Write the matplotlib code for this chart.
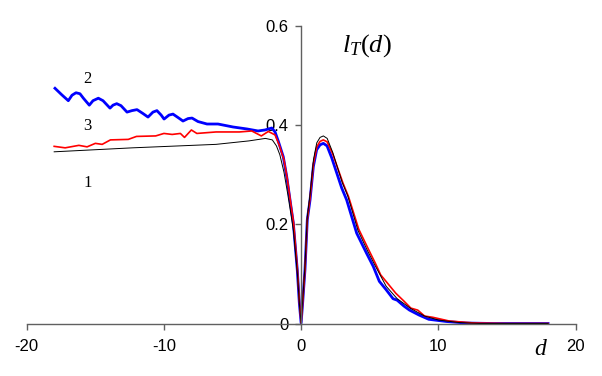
import matplotlib
matplotlib.use("Agg")
import matplotlib.pyplot as plt

plt.rcParams['font.family'] = ['Liberation Sans', 'DejaVu Sans']
plt.rcParams['axes.unicode_minus'] = False
plt.rcParams['mathtext.fontset'] = 'custom'
plt.rcParams['mathtext.rm'] = 'Liberation Serif'
plt.rcParams['mathtext.it'] = 'Liberation Serif:italic'

# curve 2 (blue)
x2 = [-17.94, -17.45, -16.97, -16.70, -16.41, -16.12, -15.87, -15.44, -15.17, -14.78,
      -14.44, -13.93, -13.71, -13.44, -13.13, -12.69, -12.33, -11.96, -11.52, -11.16,
      -10.80, -10.51, -10.20, -9.99, -9.63, -9.34, -8.97, -8.61, -8.24, -7.95, -7.52,
      -6.86, -6.06, -4.96, -3.94, -3.14, -2.63, -2.14, -1.90, -1.66, -1.30, -1.05, -0.81,
      -0.57, -0.28, -0.13, 0.0, 0.11, 0.28, 0.45, 0.65, 0.89, 1.13, 1.38, 1.62, 1.89,
      2.23, 2.96, 3.32, 4.05, 4.78, 5.26, 5.7, 6.2, 6.7, 7.0, 7.5, 7.9, 8.6, 9.3, 10.6,
      12.0, 14.0, 16.0, 18.0]
y2 = [0.474, 0.461, 0.449, 0.460, 0.465, 0.463, 0.454, 0.440, 0.449, 0.454,
      0.449, 0.434, 0.440, 0.443, 0.439, 0.426, 0.429, 0.431, 0.423, 0.416,
      0.426, 0.429, 0.420, 0.412, 0.420, 0.422, 0.415, 0.408, 0.413, 0.414, 0.407,
      0.402, 0.402, 0.396, 0.392, 0.388, 0.390, 0.394, 0.386, 0.367, 0.336, 0.296, 0.249,
      0.203, 0.108, 0.041, 0.001, 0.041, 0.108, 0.209, 0.249, 0.316, 0.350, 0.360, 0.363,
      0.358, 0.334, 0.273, 0.249, 0.182, 0.141, 0.115, 0.085, 0.068, 0.050, 0.047, 0.035,
      0.027, 0.017, 0.0085, 0.004, 0.001, 0.0, 0.0, 0.0]

# curve 3 (red)
x3 = [-18.0, -17.2, -16.2, -15.6, -15.0, -14.5, -13.9, -12.6, -12.0, -10.6, -10.0, -9.4,
      -8.8, -8.5, -8.0, -7.6, -6.2, -4.5, -3.6, -2.9, -2.39, -1.9, -1.6, -1.25, -1.0,
      -0.77, -0.55, -0.27, -0.12, 0.0, 0.11, 0.28, 0.45, 0.66, 0.9, 1.14, 1.38, 1.62, 1.9,
      2.3, 3.05, 3.45, 4.2, 4.9, 5.4, 5.8, 6.9, 7.5, 8.0, 8.5, 9.0, 9.6, 10.8, 12.6, 15.0,
      18.0]
y3 = [0.357, 0.354, 0.359, 0.356, 0.363, 0.361, 0.370, 0.371, 0.377, 0.378, 0.383, 0.381,
      0.383, 0.375, 0.390, 0.383, 0.386, 0.386, 0.388, 0.378, 0.387, 0.380, 0.360, 0.330,
      0.290, 0.245, 0.203, 0.108, 0.041, 0.001, 0.041, 0.108, 0.209, 0.255, 0.322, 0.356,
      0.367, 0.370, 0.366, 0.342, 0.283, 0.256, 0.190, 0.150, 0.122, 0.098, 0.061, 0.045,
      0.031, 0.027, 0.015, 0.0125, 0.005, 0.001, 0.0, 0.0]

# curve 1 (black)
x1 = [-18.0, -12.3, -6.2, -3.8, -2.6, -2.1, -1.8, -1.55, -1.25, -1.0, -0.77, -0.55, -0.27,
      -0.12, 0.0, 0.11, 0.28, 0.45, 0.66, 0.9, 1.14, 1.38, 1.62, 1.9, 2.3, 3.0, 3.4, 4.15,
      4.85, 5.35, 6.2, 7.0, 8.0, 9.0, 10.0, 11.5, 13.0, 15.0, 18.0]
y1 = [0.346, 0.354, 0.361, 0.368, 0.373, 0.370, 0.358, 0.340, 0.305, 0.265, 0.225, 0.185,
      0.100, 0.038, 0.001, 0.045, 0.115, 0.215, 0.262, 0.330, 0.364, 0.375, 0.378, 0.373,
      0.345, 0.284, 0.257, 0.187, 0.146, 0.119, 0.075, 0.050, 0.030, 0.015, 0.007, 0.002,
      0.0, 0.0, 0.0]

xticks = [-20, -10, 0, 10, 20]
yticks = [0, 0.2, 0.4, 0.6]
yticklabels = ['0', '0.2', '0.4', '0.6']

fig = plt.figure(figsize=(6.02, 3.76), dpi=100)
ax = fig.add_axes([0.0444, 0.1396, 0.9116, 0.7919])

ax.plot(x2, y2, color='#0000ff', lw=2.0, solid_joinstyle='round')
ax.plot(x3, y3, color='#ff0000', lw=1.2, solid_joinstyle='round')
ax.plot(x1, y1, color='black', lw=0.7, solid_joinstyle='round')

ax.set_xlim(-20, 20)
ax.set_ylim(0, 0.6)
ax.spines['top'].set_visible(False)
ax.spines['right'].set_visible(False)
ax.spines['left'].set_position(('data', 0))
ax.spines['bottom'].set_position(('data', 0))
for s in ('left', 'bottom'):
    ax.spines[s].set_color('#606060')
    ax.spines[s].set_linewidth(1.0)

ax.set_xticks(xticks)
ax.set_yticks(yticks)
ax.set_yticklabels(yticklabels)
ax.tick_params(axis='x', direction='out', length=4, width=1, color='#606060', pad=7, labelsize=12)
ax.tick_params(axis='y', direction='out', length=4.3, width=1, color='#606060', pad=5, labelsize=12)

ax.text(4.78, 0.561, r'$l_T(d)$', fontsize=19, ha='center', va='center')
ax.text(17.5, -0.052, r'$d$', fontsize=17, ha='center', va='center', clip_on=False)

for lab, yy in (('2', 0.493), ('3', 0.399), ('1', 0.284)):
    ax.text(-15.58, yy, lab, fontsize=12, family='Liberation Serif', ha='center', va='center')

fig.savefig('out.png', dpi=100)
